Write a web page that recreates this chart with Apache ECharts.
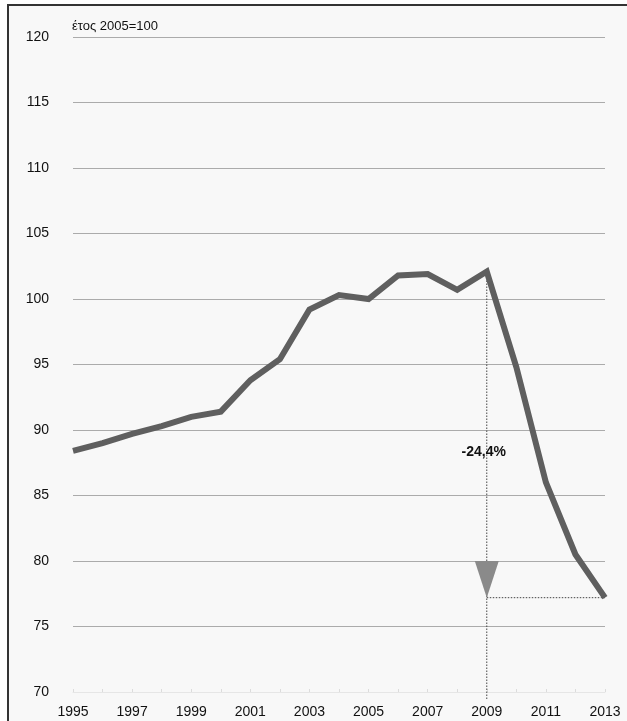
<!DOCTYPE html>
<html>
<head>
<meta charset="utf-8">
<script src="https://cdn.jsdelivr.net/npm/echarts@6/dist/echarts.min.js"></script>
<style>
html,body{margin:0;padding:0;background:#fff;}
#frame{position:absolute;left:7px;top:4px;right:0;bottom:0;background:#f8f8f8;border-top:2px solid #333;border-left:2px solid #333;}
#main{position:absolute;left:0;top:0;width:627px;height:721px;}
</style>
</head>
<body>
<div id="frame"></div>
<div id="main"></div>
<script>
const years = ['1995','1996','1997','1998','1999','2000','2001','2002','2003','2004','2005','2006','2007','2008','2009','2010','2011','2012','2013'];
const values = [88.4,89.0,89.7,90.3,91.0,91.4,93.8,95.4,99.2,100.3,100.0,101.8,101.9,100.7,102.1,94.8,86.0,80.5,77.2];
const yTicks = {min:70, max:120, interval:5};
const unitLabel = 'έτος 2005=100';
const changeLabel = '-24,4%';
const peakYear = '2009', endYear = '2013';
const peakValue = 102.1, endValue = 77.2;
const labelValue = 88.3;
const triTopValue = 80;

const FONT = '"Liberation Sans", Arial, sans-serif';
const chart = echarts.init(document.getElementById('main'), null, {renderer:'canvas'});
chart.setOption({
  backgroundColor:'transparent',
  animation:false,
  grid:{left:73, right:22, top:37, bottom:29, containLabel:false},
  xAxis:{
    type:'category', data:years, boundaryGap:false,
    axisLine:{show:true, lineStyle:{color:'#e6e6e6', width:1}},
    axisTick:{show:true, inside:true, length:3, interval:0, lineStyle:{color:'#dcdcdc'}},
    axisLabel:{interval:1, color:'#111', fontFamily:FONT, fontSize:14, margin:13},
    splitLine:{show:false}
  },
  yAxis:{
    type:'value', min:yTicks.min, max:yTicks.max, interval:yTicks.interval,
    axisLine:{show:false}, axisTick:{show:false},
    axisLabel:{color:'#111', fontFamily:FONT, fontSize:14, margin:24},
    splitLine:{lineStyle:{color:'#ababab', width:1}}
  },
  series:[{
    type:'line', data:values, symbol:'none', z:3,
    lineStyle:{color:'#5f5f5f', width:6, join:'miter'}
  }]
});

function draw(){
  const p = v => chart.convertToPixel({gridIndex:0}, v);
  const peak = p([peakYear, peakValue]);
  const bottom = p([peakYear, yTicks.min]);
  const end = p([endYear, endValue]);
  const peakEnd = p([peakYear, endValue]);
  const triTop = p([peakYear, triTopValue]);
  const lab = p([peakYear, labelValue]);
  const topY = p([years[0], yTicks.max]);
  chart.setOption({graphic:[
    {type:'line', z:2, shape:{x1:peak[0], y1:peak[1], x2:bottom[0], y2:bottom[1]+7},
     style:{stroke:'#444', lineWidth:1, lineDash:[1.5,1.5]}},
    {type:'line', z:2, shape:{x1:peakEnd[0], y1:peakEnd[1], x2:end[0], y2:end[1]},
     style:{stroke:'#444', lineWidth:1, lineDash:[1.5,1.5]}},
    {type:'polygon', z:4, shape:{points:[[triTop[0]-12, triTop[1]],[triTop[0]+12, triTop[1]],[peakEnd[0], peakEnd[1]]]},
     style:{fill:'#8a8a8a'}},
    {type:'text', z:5, x:lab[0]-3, y:lab[1], style:{text:changeLabel, fill:'#111', font:'bold 14px '+FONT, align:'center', verticalAlign:'middle'}},
    {type:'text', z:5, x:topY[0]-1, y:topY[1]-11, style:{text:unitLabel, fill:'#111', font:'13px '+FONT, align:'left', verticalAlign:'middle'}}
  ]});
}
draw();
</script>
</body>
</html>
